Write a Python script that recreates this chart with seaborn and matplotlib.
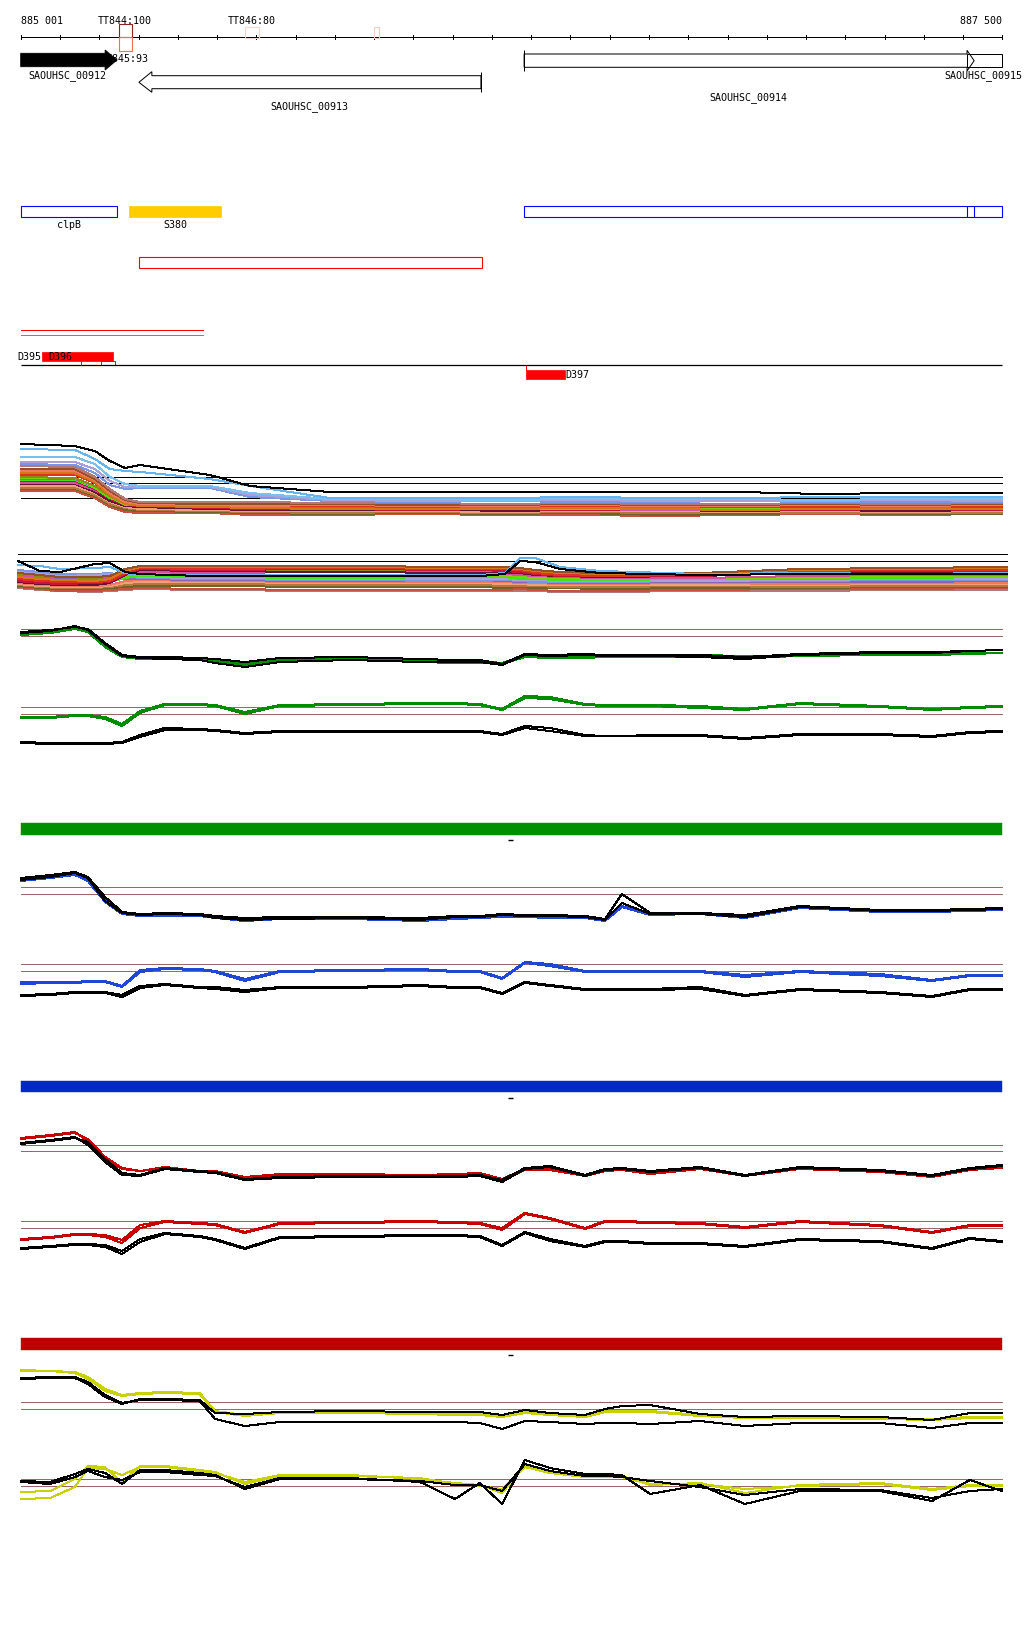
import numpy as np
import pandas as pd
import matplotlib
matplotlib.use("Agg")
import matplotlib.pyplot as plt
import seaborn as sns
from matplotlib.patches import Polygon, Rectangle

sns.set_style("white")
plt.rcParams['font.family'] = ['DejaVu Sans Mono', 'DejaVu Sans']

# ---------------- data ----------------
region = [885001, 887500]
ruler_labels = ['885 001', '887 500']

tt_labels = ['TT844:100', 'TT845:93', 'TT846:80']
tt_label_centre = [885265, 885265, 885589]
tt_box_start = [885252, 885572, 885901]
tt_box_end = [885284, 885608, 885914]

gene_names = ['SAOUHSC_00912', 'SAOUHSC_00913', 'SAOUHSC_00914', 'SAOUHSC_00915']
gene_start = [885001, 885302, 886283, 887411]
gene_end = [885246, 886173, 887429, 887500]
gene_label_centre = [885120, 885735, 886853, 887452]

annot_names = ['clpB', 'S380']
annot_start = [885001, 885277]
annot_end = [885246, 885511]
annot_right_start = 886283
annot_right_splits = [887411, 887429]
utr_box = [885303, 886175]
red_green_span = [885001, 885465]

d_names = ['D395', 'D396', 'D397']
d396_span = [885055, 885236]
d396_small = [885206, 885242]
d396_tick = 885155
d397_span = [886288, 886388]

# dense track 1 (signal levels at knots)
k1 = [885001, 885139, 885190, 885228, 885267, 885305, 885483, 885585, 885789,
      886018, 886222, 886426, 886629, 886833, 887037, 887241, 887500]
t1_refs = [42, 36, 21]
t1 = {
    'brownred':    [28, 28, 21, 12, 7, 6, 6, 4, 4, 5, 4, 4, 3, 4, 5, 4, 5],
    'darkolive':   [30, 30, 23, 14, 9, 8, 7, 6, 5, 6, 5, 6, 4, 5, 6, 5, 5],
    'tan':         [31, 31, 24, 15, 11, 9, 8, 7, 6, 7, 6, 7, 6, 7, 6, 6, 6],
    'peach':       [33, 33, 26, 17, 12, 10, 9, 8, 8, 8, 7, 8, 8, 7, 8, 7, 8],
    'maroon':      [35, 35, 27, 18, 13, 12, 10, 9, 9, 10, 8, 9, 9, 8, 9, 8, 9],
    'magenta':     [36, 36, 29, 21, 16, 14, 12, 11, 10, 11, 10, 10, 9, 10, 11, 10, 10],
    'crimson':     [38, 38, 30, 20, 14, 13, 11, 10, 10, 9, 10, 9, 10, 9, 9, 10, 9],
    'green':       [39, 39, 31, 21, 17, 16, 15, 14, 12, 13, 12, 11, 10, 12, 11, 10, 11],
    'purple':      [40, 40, 32, 23, 16, 14, 13, 12, 11, 11, 11, 10, 11, 10, 10, 11, 10],
    'yellowgreen': [41, 41, 32, 22, 14, 14, 13, 13, 11, 12, 11, 10, 11, 11, 10, 11, 11],
    'olive':       [42, 41, 33, 23, 15, 13, 12, 12, 12, 11, 12, 11, 11, 12, 11, 11, 12],
    'red':         [44, 44, 36, 25, 16, 15, 14, 14, 13, 12, 13, 12, 13, 12, 12, 13, 12],
    'orange':      [46, 46, 37, 24, 15, 13, 12, 11, 10, 10, 10, 11, 10, 9, 10, 10, 10],
    'salmon':      [48, 48, 39, 26, 17, 15, 14, 13, 14, 13, 13, 14, 13, 13, 14, 13, 14],
    'saddlebrown': [50, 50, 40, 28, 19, 16, 15, 15, 15, 14, 14, 15, 14, 14, 15, 14, 15],
    'rosybrown':   [53, 52, 42, 30, 20, 17, 17, 17, 16, 16, 15, 16, 15, 15, 16, 15, 16],
    'cornflower':  [55, 54, 46, 34, 30, 31, 31, 22, 18, 17, 18, 17, 17, 18, 17, 17, 17],
    'lavender':    [57, 57, 50, 38, 32, 32, 32, 24, 19, 18, 18, 19, 18, 18, 18, 19, 18],
    'lightblue2':  [62, 62, 55, 42, 35, 33, 33, 26, 20, 20, 19, 20, 20, 20, 19, 20, 20],
    'lightblue1':  [70, 69, 60, 50, 48, 47, 40, 33, 21, 21, 21, 22, 21, 21, 22, 22, 22],
    'black':       [75, 73, 68, 58, 51, 54, 44, 33, 27, 27, 27, 27, 27, 27, 25, 26, 26],
}

# dense track 2
k2 = [884994, 885050, 885101, 885190, 885228, 885267, 885305, 885458, 885789, 886171,
      886234, 886273, 886311, 886375, 886477, 886732, 886986, 887241, 887514]
t2_refs = [45, 38]
t2 = {
    'rosybrown':   [11, 9, 8, 7, 8, 9, 10, 9, 8, 8, 8, 8, 8, 7, 7, 8, 8, 9, 9],
    'brownred':    [12, 10, 8, 8, 9, 10, 11, 10, 9, 9, 9, 10, 9, 8, 8, 9, 10, 10, 11],
    'darkolive':   [13, 11, 10, 10, 11, 12, 13, 13, 12, 12, 11, 12, 11, 11, 10, 11, 11, 12, 12],
    'tan':         [14, 12, 11, 11, 12, 14, 15, 15, 14, 14, 13, 13, 13, 12, 12, 13, 12, 13, 13],
    'peach':       [15, 13, 12, 12, 13, 16, 17, 17, 16, 16, 15, 15, 14, 14, 14, 14, 14, 15, 15],
    'salmon':      [16, 14, 13, 13, 14, 18, 19, 18, 17, 17, 17, 16, 16, 15, 15, 16, 15, 16, 16],
    'purple':      [24, 22, 20, 20, 21, 20, 20, 19, 18, 18, 18, 17, 17, 16, 16, 17, 17, 17, 18],
    'cornflower':  [29, 27, 25, 25, 26, 23, 21, 20, 19, 18, 19, 18, 17, 17, 17, 18, 18, 19, 19],
    'lavender':    [27, 25, 23, 24, 25, 24, 22, 21, 20, 20, 20, 19, 19, 18, 18, 18, 19, 20, 20],
    'green':       [19, 17, 16, 16, 17, 21, 23, 22, 21, 22, 22, 20, 20, 19, 19, 20, 20, 21, 22],
    'yellowgreen': [21, 19, 18, 18, 19, 23, 25, 24, 23, 24, 23, 22, 21, 21, 20, 20, 21, 22, 22],
    'magenta':     [23, 21, 19, 20, 21, 25, 27, 26, 27, 26, 25, 24, 23, 22, 21, 21, 23, 24, 24],
    'olive':       [25, 23, 22, 21, 22, 29, 30, 29, 29, 28, 29, 27, 25, 24, 24, 24, 26, 27, 27],
    'maroon':      [17, 15, 14, 14, 16, 24, 29, 28, 27, 26, 26, 26, 24, 23, 22, 23, 26, 27, 28],
    'crimson':     [18, 16, 15, 16, 17, 25, 30, 29, 30, 29, 28, 27, 25, 23, 23, 23, 27, 28, 28],
    'red':         [20, 18, 17, 17, 18, 26, 31, 30, 31, 30, 30, 29, 26, 24, 23, 24, 28, 29, 29],
    'orange':      [22, 20, 19, 18, 20, 28, 32, 32, 32, 31, 31, 30, 28, 26, 25, 25, 29, 30, 31],
    'saddlebrown': [26, 24, 22, 22, 23, 30, 33, 33, 33, 32, 32, 31, 29, 27, 26, 26, 30, 31, 32],
    'lightblue1':  [34, 33, 30, 31, 32, 26, 24, 24, 24, 24, 26, 41, 41, 32, 28, 25, 26, 25, 26],
    'black':       [38, 28, 27, 35, 36, 27, 25, 23, 23, 23, 25, 38, 37, 30, 26, 24, 25, 25, 25],
}

# paired signal tracks (two replicates of colour + two of black), knots shared
k3 = [885001, 885076, 885139, 885172, 885216, 885259, 885305, 885368, 885457, 885496,
      885572, 885661, 885839, 886018, 886107, 886170, 886227, 886285, 886349, 886438,
      886489, 886532, 886604, 886731, 886845, 886985, 887189, 887322, 887418, 887500]

green_up = {
    'c1': [35, 37, 41, 38, 24, 13, 11, 11, 10, 9, 6, 10, 11, 9, 8, 8, 6, 13, 12, 12, 13, 13, 13, 14, 13, 14, 15, 15, 16, 16],
    'c2': [34, 36, 40, 37, 22, 12, 10, 10, 9, 7, 4, 9, 10, 7, 6, 6, 5, 12, 11, 11, 12, 12, 12, 13, 11, 13, 14, 14, 15, 16],
    'b1': [37, 39, 42, 40, 26, 14, 12, 12, 11, 10, 7, 11, 12, 10, 9, 9, 5, 15, 14, 15, 14, 14, 14, 14, 12, 15, 17, 17, 18, 19],
    'b2': [36, 38, 43, 39, 25, 13, 11, 10, 9, 6, 2, 7, 9, 7, 7, 7, 4, 14, 13, 14, 13, 13, 13, 12, 10, 14, 16, 16, 18, 19],
}
green_lo = {
    'c1': [32, 32, 34, 34, 32, 25, 38, 45, 45, 44, 37, 44, 45, 46, 46, 45, 40, 53, 52, 45, 44, 44, 44, 43, 40, 46, 43, 40, 42, 43],
    'c2': [31, 31, 33, 33, 30, 23, 36, 44, 44, 43, 35, 43, 44, 45, 45, 44, 39, 51, 50, 44, 43, 43, 43, 41, 39, 45, 42, 39, 41, 42],
    'b1': [7, 6, 6, 6, 6, 7, 14, 21, 20, 19, 16, 18, 18, 18, 18, 18, 15, 23, 21, 14, 13, 13, 14, 14, 11, 15, 15, 13, 17, 18],
    'b2': [6, 5, 5, 5, 5, 6, 12, 19, 19, 18, 15, 17, 17, 17, 17, 17, 14, 21, 18, 13, 13, 13, 13, 13, 10, 14, 14, 12, 16, 17],
}
blue_up = {
    'c1': [50, 53, 56, 50, 30, 16, 14, 14, 14, 12, 10, 11, 11, 9, 11, 12, 13, 13, 12, 12, 9, 23, 15, 16, 13, 22, 18, 18, 19, 20],
    'c2': [48, 51, 54, 48, 27, 15, 13, 13, 13, 11, 8, 10, 10, 8, 10, 11, 12, 12, 11, 11, 8, 22, 14, 15, 11, 21, 17, 17, 18, 19],
    'b1': [51, 54, 57, 52, 32, 17, 15, 16, 15, 13, 11, 12, 12, 11, 13, 13, 15, 14, 14, 13, 10, 35, 16, 16, 14, 23, 19, 19, 20, 21],
    'b2': [49, 52, 56, 51, 28, 16, 14, 15, 14, 11, 9, 10, 11, 9, 12, 12, 14, 13, 13, 12, 9, 26, 15, 15, 12, 22, 18, 18, 19, 20],
}
blue_lo = {
    'c1': [17, 17, 17, 18, 18, 13, 29, 31, 30, 28, 20, 28, 29, 30, 28, 28, 21, 37, 35, 28, 28, 28, 28, 28, 24, 28, 25, 19, 24, 24],
    'c2': [15, 16, 16, 17, 17, 12, 27, 30, 29, 27, 18, 27, 28, 29, 27, 27, 20, 36, 33, 27, 27, 27, 27, 27, 22, 27, 23, 18, 23, 23],
    'b1': [4, 5, 7, 7, 7, 4, 13, 15, 12, 12, 9, 12, 12, 14, 12, 12, 6, 17, 14, 10, 10, 10, 10, 12, 4, 10, 7, 3, 10, 10],
    'b2': [3, 4, 6, 6, 6, 2, 11, 14, 11, 10, 7, 11, 11, 13, 11, 11, 5, 16, 13, 9, 9, 9, 9, 10, 3, 9, 6, 2, 9, 9],
}
red_up = {
    'c1': [50, 53, 56, 50, 32, 21, 18, 22, 18, 18, 12, 15, 15, 14, 15, 16, 10, 20, 20, 14, 19, 20, 16, 21, 14, 21, 18, 13, 20, 22],
    'c2': [51, 54, 57, 48, 30, 20, 18, 21, 17, 17, 11, 14, 14, 13, 14, 15, 9, 19, 19, 13, 18, 19, 15, 20, 13, 20, 17, 12, 19, 21],
    'b1': [45, 48, 51, 47, 30, 16, 14, 21, 18, 17, 10, 12, 13, 13, 13, 14, 9, 21, 23, 14, 20, 21, 18, 22, 14, 22, 19, 14, 21, 24],
    'b2': [46, 49, 52, 44, 27, 14, 13, 20, 17, 16, 9, 11, 12, 12, 12, 13, 7, 20, 22, 13, 19, 20, 17, 21, 13, 21, 18, 13, 20, 23],
}
red_lo = {
    'c1': [20, 22, 25, 25, 24, 19, 34, 38, 36, 35, 27, 36, 37, 38, 37, 36, 31, 46, 41, 31, 38, 38, 37, 36, 32, 38, 34, 27, 34, 34],
    'c2': [19, 21, 24, 24, 22, 16, 31, 37, 35, 34, 26, 35, 36, 37, 36, 35, 29, 45, 40, 30, 37, 37, 36, 35, 31, 37, 33, 26, 33, 33],
    'b1': [11, 13, 15, 15, 14, 8, 20, 26, 23, 20, 11, 22, 23, 24, 24, 23, 14, 27, 20, 13, 18, 18, 16, 16, 13, 20, 18, 11, 21, 18],
    'b2': [10, 12, 14, 14, 12, 5, 17, 25, 22, 19, 10, 21, 22, 23, 23, 22, 13, 26, 18, 12, 17, 17, 15, 15, 12, 19, 17, 10, 20, 17],
}
yellow_up = {
    'c1': [68, 68, 67, 62, 50, 44, 46, 47, 46, 28, 24, 27, 27, 26, 25, 25, 23, 27, 25, 23, 28, 28, 28, 24, 22, 22, 21, 20, 22, 22],
    'c2': [69, 68, 66, 60, 48, 43, 45, 46, 45, 27, 23, 26, 26, 25, 24, 24, 22, 26, 24, 22, 27, 27, 27, 23, 21, 21, 20, 19, 21, 21],
    'b1': [61, 62, 62, 57, 44, 36, 39, 40, 39, 26, 25, 27, 28, 27, 27, 27, 24, 29, 26, 24, 30, 33, 34, 25, 22, 23, 22, 19, 26, 26],
    'b2': [60, 61, 61, 55, 42, 35, 40, 39, 38, 20, 13, 17, 17, 17, 17, 16, 10, 18, 17, 15, 16, 16, 15, 18, 13, 16, 16, 11, 16, 16],
}
yellow_lo = {
    'c1': [17, 18, 30, 43, 42, 26, 43, 43, 39, 37, 25, 33, 34, 30, 26, 24, 16, 44, 38, 33, 33, 33, 24, 26, 16, 24, 26, 20, 24, 24],
    'c2': [10, 11, 22, 41, 40, 34, 42, 42, 38, 36, 27, 34, 33, 31, 25, 23, 20, 42, 36, 32, 32, 32, 25, 25, 20, 23, 25, 19, 23, 23],
    'b1': [28, 27, 35, 40, 36, 25, 39, 39, 36, 34, 20, 30, 31, 27, 10, 26, 5, 49, 41, 35, 35, 34, 15, 24, 5, 18, 18, 8, 29, 18],
    'b2': [27, 25, 32, 38, 32, 29, 37, 37, 34, 33, 22, 31, 30, 28, 24, 24, 18, 45, 38, 33, 33, 32, 28, 22, 14, 20, 19, 11, 18, 20],
}
refs_up = {'green': [40, 33], 'blue': [42, 35], 'red': [44, 38], 'yellow': [37, 30]}
refs_lo = {'green': [42, 35], 'blue': [35, 28], 'red': [38, 31], 'yellow': [30, 23]}

# ---------------- styles / layout ----------------
dense_colors = {
    'black': '#000000', 'lightblue1': '#64B4F0', 'lightblue2': '#78C0F0',
    'lavender': '#A8A0D8', 'cornflower': '#7896E6', 'rosybrown': '#B47878',
    'saddlebrown': '#965028', 'salmon': '#F07860', 'red': '#E03020',
    'olive': '#8C8C14', 'yellowgreen': '#78D200', 'green': '#3CE614',
    'magenta': '#D250A0', 'crimson': '#C8143C', 'maroon': '#64143C',
    'orange': '#D27814', 'peach': '#F0A078', 'tan': '#B4783C',
    'darkolive': '#6E6428', 'purple': '#8C64B4', 'brownred': '#C8503C',
}
track_colors = {'green': '#008C00', 'blue': '#1E46D7', 'red': '#C80000', 'yellow': '#C8D200'}
bar_colors = {'green': '#008F00', 'blue': '#0028C8', 'red': '#BE0000'}
REF_COLOR = '#9A6666'
FS = 7.2
LW = 0.72

fig = plt.figure(figsize=(10.24, 16.40), dpi=100)
ax = fig.add_axes([0, 0, 1, 1])
bp_per_px = (region[1] - region[0]) / 981.3
X0 = region[0] - 20.7 * bp_per_px
X1 = X0 + 1024 * bp_per_px


def draw_lines(knots, series, colors, base, lw=LW):
    rows = []
    for name, vals in series.items():
        for g, v in zip(knots, vals):
            rows.append((name, g, base - v))
    df = pd.DataFrame(rows, columns=['series', 'pos', 'y'])
    sns.lineplot(data=df, x='pos', y='y', hue='series', palette=colors,
                 estimator=None, sort=False, legend=False, ax=ax,
                 linewidth=lw, antialiased=False)


def txt(x, y, s, ha='center', color='black', z=3):
    ax.text(x, y, s, ha=ha, va='center', fontsize=FS, color=color,
            family=['DejaVu Sans Mono'], zorder=z)


# ruler
RY = 38.3
ax.hlines(RY, region[0], region[1], color='black', lw=LW, antialiased=False)
ticks = list(range(region[0], region[1] + 2, 100))
ax.vlines(ticks, RY - 2, RY + 2, color='black', lw=LW, antialiased=False)
txt(region[0], 20.5, ruler_labels[0], ha='left')
txt(region[1], 20.5, ruler_labels[1], ha='right')

# terminator markers
ax.add_patch(Rectangle((tt_box_start[0], 25), tt_box_end[0] - tt_box_start[0], RY - 25,
                       fill=False, ec='#8B2020', lw=0.8, zorder=4))
ax.add_patch(Rectangle((tt_box_start[0], RY), tt_box_end[0] - tt_box_start[0], 13.4,
                       fill=False, ec='#F07050', lw=0.8, zorder=4))
ax.add_patch(Rectangle((tt_box_start[1], 27.7), tt_box_end[1] - tt_box_start[1], 11.6,
                       fill=False, ec='#F5D8CC', lw=0.8, zorder=4))
ax.add_patch(Rectangle((tt_box_start[2], 28), tt_box_end[2] - tt_box_start[2], 11,
                       fill=False, ec='#F5CCC4', lw=0.8, zorder=4))
txt(tt_label_centre[0], 20.5, tt_labels[0])
txt(tt_label_centre[1], 58.5, tt_labels[1], z=2)
txt(tt_label_centre[2], 20.5, tt_labels[2])

# genes
s, e = gene_start[0], gene_end[0]
h = e - 30
ax.add_patch(Polygon([(s, 54.3), (h, 54.3), (h, 51), (e, 61), (h, 71), (h, 67.7), (s, 67.7)],
                     closed=True, fc='black', ec='black', lw=0.6, zorder=5))
s, e = gene_start[1], gene_end[1]
h = s + 33
ax.add_patch(Polygon([(s, 83.3), (h, 72.7), (h, 76.7), (e, 76.7), (e, 89.7), (h, 89.7), (h, 93.3)],
                     closed=True, fill=False, ec='black', lw=LW, zorder=5))
ax.vlines(e, 72.7, 93.3, color='black', lw=LW)
s, e = gene_start[2], gene_end[2]
h = e - 18
ax.add_patch(Polygon([(s, 55), (h, 55), (h, 51.3), (e, 61.7), (h, 72), (h, 68.3), (s, 68.3)],
                     closed=True, fill=False, ec='black', lw=LW, zorder=5))
ax.vlines(s, 51, 72, color='black', lw=LW)
ax.add_patch(Rectangle((gene_start[3], 55), gene_end[3] - gene_start[3], 13.3,
                       fill=False, ec='black', lw=LW, zorder=5))
for name, cx, y in zip(gene_names, gene_label_centre, [76, 106.5, 97.5, 76]):
    txt(cx, y, name)

# annotation track
ax.add_patch(Rectangle((annot_start[0], 207.3), annot_end[0] - annot_start[0], 10.4,
                       fill=False, ec='#0000FF', lw=0.8))
ax.add_patch(Rectangle((annot_start[1], 207.3), annot_end[1] - annot_start[1], 10.4,
                       fc='#FFCC00', ec='#FFCC00', lw=0.5))
ax.add_patch(Rectangle((annot_right_start, 207.3), region[1] - annot_right_start, 10.4,
                       fill=False, ec='#0000FF', lw=0.8))
ax.vlines(annot_right_splits, 207.3, 217.7, color='#0000FF', lw=0.8)
for name, s, e in zip(annot_names, annot_start, annot_end):
    txt((s + e) / 2, 224.5, name)

ax.add_patch(Rectangle((utr_box[0], 258.3), utr_box[1] - utr_box[0], 10.4,
                       fill=False, ec='#FF0000', lw=0.8))
ax.hlines(331.3, red_green_span[0], red_green_span[1], color='#FF0000', lw=LW, antialiased=False)
ax.hlines(336.3, red_green_span[0], red_green_span[1], color='#00DD00', lw=LW, antialiased=False)

# D features
ax.hlines(366, region[0], region[1], color='black', lw=0.9)
ax.add_patch(Rectangle((d396_span[0], 353), d396_span[1] - d396_span[0], 8.7,
                       fc='#FF0000', ec='#FF0000', lw=0.5))
ax.add_patch(Rectangle((d396_small[0], 362.3), d396_small[1] - d396_small[0], 4,
                       fill=False, ec='#FF0000', lw=0.7))
ax.vlines(d396_tick, 362, 366, color='#FF0000', lw=0.7)
txt(X0 + 17 * bp_per_px, 357.5, d_names[0], ha='left')
txt(d396_span[0] + 6 * bp_per_px, 357.5, d_names[1], ha='left')
ax.add_patch(Rectangle((d397_span[0], 371), d397_span[1] - d397_span[0], 9,
                       fc='#FF0000', ec='#FF0000', lw=0.5))
ax.vlines(d397_span[0], 366, 371, color='#FF0000', lw=0.7)
txt(d397_span[1], 375.5, d_names[2], ha='left')

# dense tracks
ax.hlines([520 - r for r in t1_refs], region[0], region[1], color='black', lw=LW, antialiased=False)
draw_lines(k1, t1, dense_colors, 520)
ax.hlines([600 - r for r in t2_refs], k2[0], k2[-1], color='black', lw=LW, antialiased=False)
draw_lines(k2, t2, dense_colors, 600)

# paired signal tracks
panels = [
    ('green', green_up, green_lo, 670, 750, None),
    ('blue', blue_up, blue_lo, 930, 1000, ('green', 824)),
    ('red', red_up, red_lo, 1190, 1260, ('blue', 1081.7)),
    ('yellow', yellow_up, yellow_lo, 1440, 1510, ('red', 1339)),
]
for col, up, lo, base_up, base_lo, bar in panels:
    if bar is not None:
        ax.add_patch(Rectangle((region[0], bar[1]), region[1] - region[0], 11.5,
                               fc=bar_colors[bar[0]], ec=bar_colors[bar[0]], lw=0.3))
        ax.hlines(bar[1] + 16.8, 886242, 886254, color='black', lw=1.0)
    ax.hlines([base_up - r for r in refs_up[col]], region[0], region[1], color=REF_COLOR,
              lw=LW, antialiased=False)
    ax.hlines([base_lo - r for r in refs_lo[col]], region[0], region[1], color=REF_COLOR,
              lw=LW, antialiased=False)
    pal = {'c1': track_colors[col], 'c2': track_colors[col], 'b1': '#000000', 'b2': '#000000'}
    draw_lines(k3, up, pal, base_up)
    draw_lines(k3, lo, pal, base_lo)

ax.set_xlim(X0, X1)
ax.set_ylim(1640, 0)
ax.axis('off')
fig.savefig('out.png', dpi=100, facecolor='white')
